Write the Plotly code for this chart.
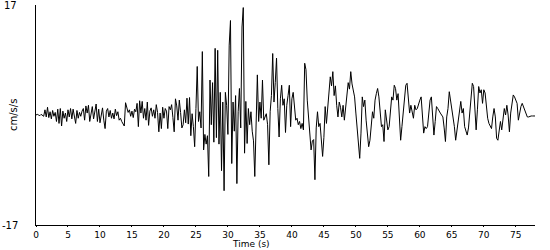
import plotly.graph_objects as go

dt = 0.2  # sample interval, s

accel = [
    0, 0.1, 0, -0.1, 0.1,
    0, -0.2, 0.8, -0.3, 1.2,
    -0.4, 0.5, -0.6, 0.7, -0.2,
    0.4, -1.0, 0.9, -1.3, 1.0,
    -1.7, 0.6, -0.5, 0.3, -1.0,
    0.8, -0.3, 1.0, -0.6, 0.9,
    -0.4, -1.3, 0.7, -0.5, 0.4,
    -0.2, 0.6, 1.0, -0.8, 1.4,
    0.3, 1.5, -1.0, 0.2, 1.3,
    -0.6, 0.5, 1.7, -1.0, 0.9,
    -1.2, 0.4, 1.1, -0.8, -2.1,
    0.6, 1.0, -0.3, 0.7, -0.5,
    0.3, -0.6, 0.9, -0.1, 0.5,
    -0.8, -0.5, -1.0, -1.3, -1.7,
    1.9, 0.9, 0.4, 0.8, -0.2,
    0.6, -0.4, 0.9, 0.5, 1.8,
    -1.8, 2.2, 0.3, 2.1, -0.5,
    1.0, -0.8, 2.0, -1.6, 0.6,
    1.1, -0.2, 0.8, -0.5, 1.6,
    0.4, -2.6, 0.3, -2.1, 1.2,
    -0.5, 1.0, 0.6, -2.1, 1.3,
    0.8, 1.6, -0.4, -2.6, 2.5,
    1.4, -0.8, 2.3, 0.4, -2.0,
    -1.5, 0.8, -1.2, 2.6, -1.4,
    2.7, -3.2, 0.2, -1.8, -4.9,
    1.0, 7.5, -1.0, 0.5, -2.0,
    9.8, -5.4, -3.0, -4.5, -3.2,
    -9.5, 5.4, -1.5, 5.0, -4.2,
    10.3, -3.5, 10.0, -4.5, 3.5,
    -8.6, 2.0, -11.7, 3.5, 1.5,
    -3.0, 10.8, 14.6, -7.5, 2.0,
    -2.5, 3.0, -10.6, 0.5, 4.1,
    -2.0, 13.6, 16.6, -5.9, 2.1,
    -4.4, 1.0, -1.5, 0.5, -2.5,
    -4.0, -9.5, 0.8, 6.2, -1.0,
    2.0, -0.5, 5.4, -0.8, -0.3,
    0.2, -1.5, -7.7, 0.5, 3.0,
    9.5, 2.0, 5.0, 8.8, 1.0,
    -3.4, 2.5, 4.6, 1.5, 2.5,
    -2.7, 1.5, 3.0, 4.6, -1.8,
    2.5, 3.5, 1.2, -0.8, -0.5,
    -1.5, -1.0, -2.1, -1.3, -2.3,
    8.0, 7.0, 2.3, -0.5, -3.9,
    -5.4, -4.0, -3.8, -10.0, -2.0,
    0.5, -1.8, -1.3, -4.0, -6.4,
    -3.5, 1.3, -1.3, 0.8, 3.9,
    5.9, 4.5, 6.7, 3.0, 4.5,
    1.5, -0.3, 2.0, 1.2, -0.3,
    1.5, -0.8, 1.5, 3.9, 5.0,
    4.0, 6.7, 4.8, 3.9, 2.8,
    0.3, -1.8, -3.4, -6.7, -2.8,
    2.8, 1.3, 2.3, -0.8, -2.6,
    -4.9, -3.9, -1.8, 0.5, -0.5,
    2.3, 3.3, 4.1, 2.8, -0.3,
    -1.8, -1.5, -4.1, 0.8, -0.5,
    -2.3, -1.8, 0.3, 2.8, 2.3,
    4.6, 4.1, 2.3, 3.3, -0.3,
    -3.9, -1.8, 0.5, 1.5, 4.6,
    4.9, 2.8, 0.3, 1.5, 0.5,
    -0.5, 1.5, 0.8, 1.0, 1.8,
    2.3, 2.8, -0.3, -2.8, -1.8,
    -2.1, -1.8, 1.0, 2.3, 2.8,
    -0.5, -3.1, -1.0, 1.3, 1.0,
    0.5, 0.3, 0.0, -0.3, -2.0,
    -4.1, -0.3, 1.0, 3.6, 2.3,
    0.8, -0.5, -1.8, -3.9, -2.3,
    -0.8, 1.0, 2.1, 0.3, 1.0,
    -1.8, -2.6, -3.1, -2.0, 0.3,
    3.4, 4.9, 4.4, 1.3, -2.3,
    0.8, 4.4, 3.4, 3.9, 1.8,
    3.9, 3.4, 0.8, -0.5, -1.3,
    -1.8, -2.1, -0.3, 1.0, -0.3,
    -3.6, -3.9, -2.3, -1.0, -2.3,
    -0.8, 1.0, 0.0, 1.5, 0.0,
    -2.6, 0.3, 1.8, 3.1, 2.8,
    2.1, 1.8, -0.8, 0.3, 1.3,
    1.8, 1.3, 0.5, 0.0, -0.3,
    -0.3, -0.2, -0.15, -0.15, -0.15,
    -0.15,
]
time = [round(i * dt, 2) for i in range(len(accel))]

x_ticks = [0, 5, 10, 15, 20, 25, 30, 35, 40, 45, 50, 55, 60, 65, 70, 75]
y_ticks = [-17, 17]
y_tick_text = ["-17", "17"]

font = "DejaVu Sans"

fig = go.Figure()
fig.add_trace(go.Scatter(x=time, y=accel, mode="lines",
                         line=dict(color="black", width=1), hoverinfo="skip"))

annotations = [
    dict(text="Time (s)", xref="paper", yref="paper", x=0.43, y=0,
         yshift=-26, xanchor="center", yanchor="bottom", showarrow=False,
         font=dict(family=font, size=9)),
    dict(text="cm/s/s", xref="paper", yref="paper", x=0, y=0.5,
         xshift=-23, xanchor="center", yanchor="middle", textangle=-90,
         showarrow=False, font=dict(family=font, size=10)),
]
for v, txt in zip(y_ticks, y_tick_text):
    annotations.append(dict(text=txt, xref="paper", yref="y", x=0, y=v,
                            xshift=-26, xanchor="center", yanchor="middle",
                            showarrow=False, font=dict(family=font, size=10)))

fig.update_layout(
    width=550, height=250,
    margin=dict(l=36, r=15, t=5, b=25),
    paper_bgcolor="white", plot_bgcolor="white",
    showlegend=False,
    font=dict(family=font, size=10, color="black"),
    xaxis=dict(range=[0, 78], tickvals=x_ticks, showgrid=False, zeroline=False,
               showline=True, linecolor="black", linewidth=1,
               ticks="outside", ticklen=1, tickcolor="black",
               tickfont=dict(family=font, size=9)),
    yaxis=dict(range=[-17, 17], tickvals=y_ticks, showticklabels=False,
               showgrid=False, zeroline=False,
               showline=True, linecolor="black", linewidth=1, ticks=""),
    annotations=annotations,
)

fig.write_html("out.html")
